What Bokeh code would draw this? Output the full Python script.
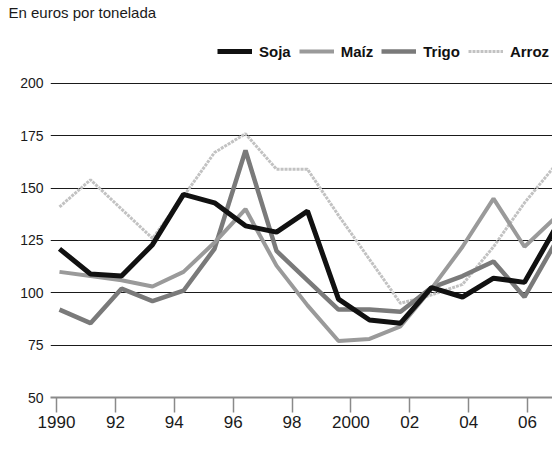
from bokeh.plotting import figure
from bokeh.models import Range1d, LinearAxis, FixedTicker, Legend, LegendItem
from bokeh.embed import file_html
from bokeh.resources import INLINE

# ---- data (euros per tonne) ----
years = list(range(1990, 2007))
soja = [121, 109, 108, 123, 147, 143, 132, 129, 139, 97, 87, 85.5, 102.5, 98, 107, 105, 131]
maiz = [110, 108, 106, 103, 110, 124, 140, 113, 94, 77, 78, 84, 102, 122, 145, 122, 136]
trigo = [92, 85.5, 102, 96, 101, 121, 168, 120, 106, 92, 92, 91, 102.5, 108, 115, 98, 124]
arroz = [141, 154, 140, 126, 146, 167, 176, 159, 159, 137, 116, 95, 99, 104, 122, 143, 161]

y_ticks = [50, 75, 100, 125, 150, 175, 200]
x_ticks = [1990, 1992, 1994, 1996, 1998, 2000, 2002, 2004, 2006]
x_tick_labels = ["1990", "92", "94", "96", "98", "2000", "02", "04", "06"]

p = figure(frame_width=502, frame_height=376,
           min_border_left=50, min_border_right=0, min_border_top=20, min_border_bottom=54,
           x_range=Range1d(1989.71, 2005.903), y_range=Range1d(50, 229.6),
           x_axis_location=None, output_backend="svg", toolbar_location=None)
p.extra_x_ranges = {"ejes": Range1d(1989.796, 2006.848)}

p.title.text = "En euros por tonelada"
p.title.align = "left"
p.title.offset = -42
p.title.standoff = 2
p.title.text_font = "Liberation Sans"
p.title.text_font_size = "15px"
p.title.text_font_style = "normal"
p.title.text_color = "#1a1a1a"

p.outline_line_color = None
p.background_fill_color = "white"
p.border_fill_color = "white"
p.xgrid.grid_line_color = None

p.yaxis.ticker = FixedTicker(ticks=y_ticks)
p.yaxis.axis_line_color = None
p.yaxis.major_tick_line_color = None
p.yaxis.major_tick_out = 0
p.yaxis.major_tick_in = 0
p.yaxis.minor_tick_line_color = None
p.yaxis.major_label_standoff = 7
p.yaxis.major_label_text_font = "Liberation Sans"
p.yaxis.major_label_text_font_size = "14px"
p.yaxis.major_label_text_color = "#1a1a1a"
p.yaxis.major_label_text_baseline = "alphabetic"
p.yaxis.major_label_text_align = "right"
p.ygrid.grid_line_color = "#1a1a1a"
p.ygrid.grid_line_width = 1.2

xaxis = LinearAxis(x_range_name="ejes", ticker=FixedTicker(ticks=x_ticks),
                   major_label_overrides={t: l for t, l in zip(x_ticks, x_tick_labels)})
xaxis.axis_line_color = "#8a8a8a"
xaxis.axis_line_width = 2
xaxis.major_tick_out = 15
xaxis.major_tick_in = 0
xaxis.major_tick_line_color = "#8a8a8a"
xaxis.major_tick_line_width = 1.5
xaxis.minor_tick_line_color = None
xaxis.major_label_standoff = 3
xaxis.major_label_text_font = "'Liberation Sans Narrow', 'Liberation Sans', sans-serif"
xaxis.major_label_text_font_size = "17px"
xaxis.major_label_text_color = "#1a1a1a"
p.add_layout(xaxis, "below")

r_arroz = p.line(years, arroz, line_color="#c2c2c2", line_width=3, line_dash="3 1")
r_trigo = p.line(years, trigo, line_color="#7a7a7a", line_width=4.5)
r_maiz = p.line(years, maiz, line_color="#9a9a9a", line_width=4)
r_soja = p.line(years, soja, line_color="#111111", line_width=5)

legend = Legend(items=[LegendItem(label="Soja", renderers=[r_soja]),
                       LegendItem(label="Maíz", renderers=[r_maiz]),
                       LegendItem(label="Trigo", renderers=[r_trigo]),
                       LegendItem(label="Arroz", renderers=[r_arroz])],
                location=(167, 336), orientation="horizontal",
                glyph_width=35, glyph_height=20, label_height=20, label_standoff=7,
                spacing=8, padding=0, margin=0,
                border_line_color=None, background_fill_alpha=0,
                label_text_font="Liberation Sans", label_text_font_style="bold",
                label_text_font_size="15px", label_text_color="#111111")
p.add_layout(legend)

open("out.html", "w").write(file_html(p, INLINE))
